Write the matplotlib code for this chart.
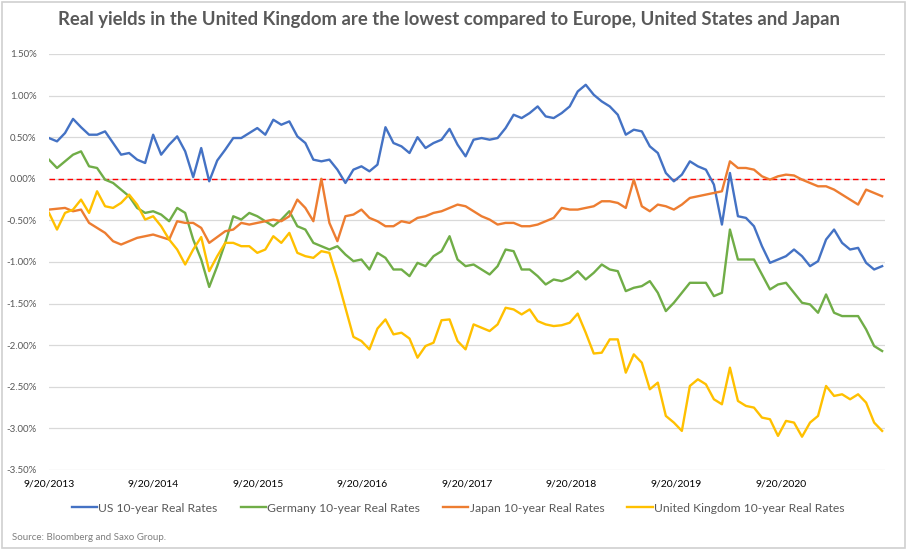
import numpy as np
import pandas as pd
import matplotlib
matplotlib.use('Agg')
import matplotlib.pyplot as plt
import matplotlib.ticker as ticker

plt.rcParams['font.family'] = ['Lato', 'DejaVu Sans']

# 4-weekly observations starting 9/20/2013
dates = pd.date_range('2013-09-20', periods=105, freq='28D')

us = [0.49, 0.45, 0.55, 0.72, 0.62, 0.53, 0.53, 0.57, 0.43, 0.29, 0.31, 0.23, 0.19, 0.53, 0.29, 0.41,
      0.51, 0.33, 0.02, 0.37, -0.03, 0.22, 0.35, 0.49, 0.49, 0.55, 0.61, 0.53, 0.71, 0.65, 0.69, 0.51,
      0.43, 0.23, 0.21, 0.23, 0.11, -0.05, 0.11, 0.15, 0.09, 0.17, 0.62, 0.43, 0.39, 0.31, 0.50, 0.37,
      0.43, 0.47, 0.60, 0.41, 0.27, 0.47, 0.49, 0.47, 0.49, 0.61, 0.77, 0.73, 0.79, 0.87, 0.75, 0.73,
      0.79, 0.87, 1.05, 1.13, 1.01, 0.93, 0.87, 0.77, 0.53, 0.59, 0.57, 0.39, 0.31, 0.07, -0.03, 0.05,
      0.21, 0.15, 0.11, -0.07, -0.55, 0.07, -0.45, -0.47, -0.57, -0.81, -1.01, -0.97, -0.93, -0.85, -0.93, -1.05,
      -0.99, -0.73, -0.61, -0.77, -0.85, -0.83, -1.01, -1.09, -1.05]

germany = [0.23, 0.13, 0.21, 0.29, 0.33, 0.15, 0.13, -0.01, -0.05, -0.13, -0.21, -0.35, -0.41, -0.39, -0.43, -0.51,
           -0.35, -0.41, -0.73, -0.97, -1.30, -1.05, -0.77, -0.45, -0.49, -0.41, -0.45, -0.51, -0.57, -0.49, -0.39, -0.57,
           -0.61, -0.77, -0.81, -0.85, -0.81, -0.91, -0.99, -0.97, -1.09, -0.89, -0.95, -1.09, -1.09, -1.17, -1.01, -1.05,
           -0.93, -0.87, -0.69, -0.97, -1.05, -1.03, -1.09, -1.15, -1.05, -0.85, -0.87, -1.09, -1.09, -1.17, -1.27, -1.21,
           -1.23, -1.19, -1.11, -1.21, -1.13, -1.03, -1.09, -1.11, -1.35, -1.31, -1.29, -1.23, -1.37, -1.59, -1.49, -1.37,
           -1.25, -1.25, -1.25, -1.41, -1.37, -0.61, -0.97, -0.97, -0.97, -1.15, -1.33, -1.27, -1.25, -1.37, -1.49, -1.51,
           -1.61, -1.39, -1.61, -1.65, -1.65, -1.65, -1.81, -2.01, -2.07]

japan = [-0.37, -0.36, -0.35, -0.39, -0.37, -0.53, -0.59, -0.65, -0.75, -0.79, -0.75, -0.71, -0.69, -0.67, -0.70, -0.73,
         -0.51, -0.53, -0.53, -0.59, -0.77, -0.70, -0.63, -0.61, -0.53, -0.55, -0.53, -0.51, -0.49, -0.51, -0.45, -0.25,
         -0.35, -0.51, 0.00, -0.53, -0.75, -0.45, -0.43, -0.37, -0.47, -0.51, -0.57, -0.57, -0.51, -0.53, -0.47, -0.45,
         -0.41, -0.39, -0.35, -0.31, -0.33, -0.39, -0.45, -0.49, -0.55, -0.53, -0.53, -0.57, -0.57, -0.55, -0.51, -0.47,
         -0.35, -0.37, -0.37, -0.35, -0.33, -0.27, -0.27, -0.29, -0.35, -0.01, -0.33, -0.39, -0.31, -0.33, -0.37, -0.31,
         -0.23, -0.21, -0.19, -0.17, -0.15, 0.21, 0.13, 0.13, 0.11, 0.03, -0.01, 0.03, 0.05, 0.04, -0.01, -0.05,
         -0.09, -0.09, -0.13, -0.19, -0.25, -0.31, -0.13, -0.17, -0.21]

uk = [-0.41, -0.61, -0.41, -0.37, -0.25, -0.41, -0.15, -0.33, -0.35, -0.29, -0.19, -0.31, -0.49, -0.45, -0.57, -0.73,
      -0.85, -1.03, -0.85, -0.70, -1.11, -0.93, -0.77, -0.77, -0.81, -0.81, -0.89, -0.85, -0.69, -0.77, -0.65, -0.89,
      -0.93, -0.95, -0.87, -0.89, -1.20, -1.55, -1.90, -1.95, -2.05, -1.80, -1.69, -1.87, -1.85, -1.92, -2.15, -2.01,
      -1.97, -1.70, -1.69, -1.95, -2.05, -1.75, -1.79, -1.83, -1.75, -1.55, -1.57, -1.63, -1.57, -1.71, -1.75, -1.77,
      -1.76, -1.73, -1.62, -1.85, -2.10, -2.09, -1.93, -1.93, -2.33, -2.11, -2.21, -2.53, -2.45, -2.85, -2.93, -3.03,
      -2.49, -2.41, -2.47, -2.65, -2.71, -2.27, -2.67, -2.73, -2.75, -2.87, -2.89, -3.09, -2.91, -2.93, -3.10, -2.93,
      -2.85, -2.49, -2.61, -2.59, -2.65, -2.59, -2.69, -2.93, -3.03]

series_names = ['US 10-year Real Rates', 'Germany 10-year Real Rates',
                'Japan 10-year Real Rates', 'United Kingdom 10-year Real Rates']
series_colors = ['#4472C4', '#70AD47', '#ED7D31', '#FFC000']

tick_labels = ['9/20/2013', '9/20/2014', '9/20/2015', '9/20/2016',
               '9/20/2017', '9/20/2018', '9/20/2019', '9/20/2020']
yticks = np.arange(-3.5, 1.51, 0.5)

fig = plt.figure(figsize=(9.08, 5.5), dpi=100)
ax = fig.add_axes([49/908, 80/550, (885-49)/908, (470-54)/550])

ax.set_axisbelow(True)
ax.grid(axis='y', color='#D9D9D9', linewidth=0.9)
ax.axhline(0, color='#FF0000', linestyle=(0, (4, 2.5)), linewidth=1.0, zorder=2)

for vals, name, col in zip([us, germany, japan, uk], series_names, series_colors):
    ax.plot(dates, vals, color=col, linewidth=1.7, label=name, zorder=3)

ax.set_xlim(pd.Timestamp('2013-09-20'), pd.Timestamp('2021-09-20'))
ax.set_ylim(-3.5, 1.5)
ax.set_yticks(yticks)
ax.yaxis.set_major_formatter(ticker.FuncFormatter(lambda v, p: f'{round(v, 2) + 0:.2f}%'))
ax.set_xticks(pd.to_datetime(tick_labels, format='%m/%d/%Y'))
ax.set_xticklabels(tick_labels)
ax.tick_params(axis='y', length=0, pad=9, labelsize=7, labelcolor='#595959')
ax.tick_params(axis='x', length=0, pad=7, labelsize=7.5, labelcolor='#000000')
for s in ax.spines.values():
    s.set_visible(False)

fig.text(0.495, 1 - 20/550, 'Real yields in the United Kingdom are the lowest compared to Europe, United States and Japan',
         ha='center', va='center', fontsize=13.3, fontweight='bold', color='#595959')

fig.legend(loc='center', bbox_to_anchor=(458/908, 1 - 508/550), ncol=4, frameon=False,
           fontsize=8.7, handlelength=2.1, handletextpad=0.1, columnspacing=1.9,
           labelcolor='#595959')

fig.text(12/908, 1 - 538/550, 'Source: Bloomberg and Saxo Group.', ha='left', va='center',
         fontsize=7, color='#7F7F7F')

fig.add_artist(plt.Rectangle((0.002, 0.003), 0.995, 0.994, transform=fig.transFigure,
                             fill=False, edgecolor='#D0D0D0', linewidth=1.2))

fig.savefig('out.png', dpi=100)
